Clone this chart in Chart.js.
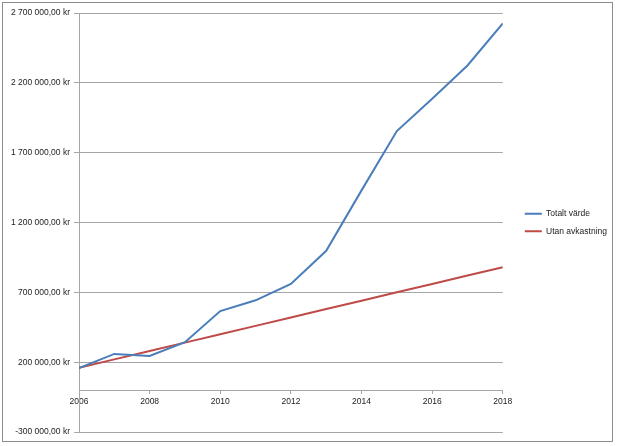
<!DOCTYPE html>
<html>
<head>
<meta charset="utf-8">
<script src="https://cdn.jsdelivr.net/npm/chart.js"></script>
<style>
  html, body { margin: 0; padding: 0; background: #fff; }
  #wrap { position: relative; width: 619px; height: 446px; }
  #frame { position: absolute; left: 2px; top: 2px; width: 609px; height: 438px; border: 1px solid #8c8c8c; pointer-events: none; }
</style>
</head>
<body>
<div id="wrap">
  <canvas id="chart" width="619" height="446"></canvas>
  <div id="frame"></div>
</div>
<script>
// years on the x axis
const years = [2006, 2007, 2008, 2009, 2010, 2011, 2012, 2013, 2014, 2015, 2016, 2017, 2018];
// "Totalt värde" – total value (kr)
const totaltVarde = [157000, 259000, 245000, 343000, 566000, 643000, 760000, 997000, 1430000, 1855000, 2086000, 2324000, 2626000];
// "Utan avkastning" – without returns (kr)
const utanAvkastning = [160000, 220000, 280000, 340000, 400000, 460000, 520000, 580000, 640000, 700000, 760000, 820000, 880000];

const yMin = -300000, yMax = 2700000, yStep = 500000;

function kr(v) {
    const s = String(Math.abs(Math.round(v))).replace(/\B(?=(\d{3})+(?!\d))/g, ' ');
    return (v < 0 ? '-' : '') + s + ',00 kr';
}

const font = { family: '"Liberation Sans", Arial, sans-serif', size: 8.5 };

// push the legend a bit to the right, like the original
const legendShift = {
    id: 'legendShift',
    afterLayout(chart) {
        chart.legend.left += 13;
        chart.legend.right += 13;
    }
};

new Chart(document.getElementById('chart'), {
    type: 'line',
    data: {
        datasets: [{
            label: 'Totalt värde',
            data: years.map((y, i) => ({ x: y, y: totaltVarde[i] })),
            borderColor: '#4a7ebb',
            backgroundColor: '#4a7ebb',
            borderWidth: 2,
            pointRadius: 0,
            tension: 0
        }, {
            label: 'Utan avkastning',
            data: years.map((y, i) => ({ x: y, y: utanAvkastning[i] })),
            borderColor: '#be4b48',
            backgroundColor: '#be4b48',
            borderWidth: 2,
            pointRadius: 0,
            tension: 0
        }]
    },
    plugins: [legendShift],
    options: {
        responsive: false,
        animation: false,
        layout: { padding: { top: 13, bottom: 14, left: 0, right: 15 } },
        plugins: {
            tooltip: { enabled: false },
            legend: {
                position: 'right',
                labels: {
                    boxWidth: 17,
                    boxHeight: 0,
                    padding: 9,
                    color: '#222',
                    font: font
                }
            }
        },
        scales: {
            x: {
                type: 'linear',
                position: { y: 0 },
                min: 2006,
                max: 2018,
                ticks: {
                    stepSize: 2,
                    color: '#222',
                    font: font,
                    callback: v => String(v),
                    padding: 3
                },
                grid: { drawOnChartArea: false, color: '#a6a6a6', tickLength: 3 },
                border: { color: '#a6a6a6' }
            },
            y: {
                min: yMin,
                max: yMax,
                ticks: {
                    stepSize: yStep,
                    color: '#222',
                    font: font,
                    callback: v => kr(v),
                    padding: 4
                },
                grid: { color: '#a6a6a6', tickLength: 5 },
                border: { color: '#a6a6a6' },
                afterFit: s => { s.width = 79; }
            }
        }
    }
});
</script>
</body>
</html>
